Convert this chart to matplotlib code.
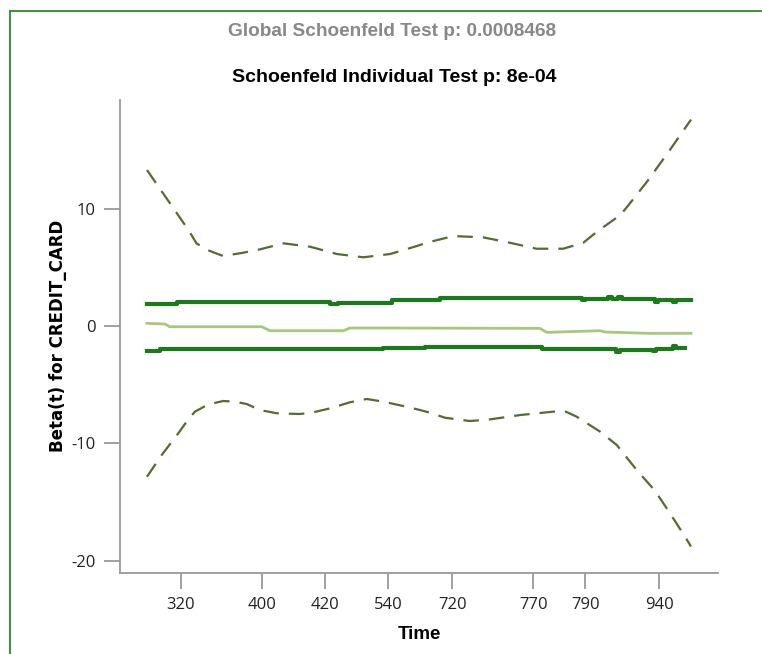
import matplotlib.pyplot as plt
from matplotlib.patches import Rectangle

plt.rcParams['axes.unicode_minus'] = False

# dados (eixo x em escala transformada 0-100)
tick_pos = [6.25, 21.1, 32.7, 44.3, 56.1, 71.0, 80.6, 94.2]
tick_lab = ['320', '400', '420', '540', '720', '770', '790', '940']

sup_x = [0, 7.6, 9.1, 11.0, 14.0, 17.7, 20.8, 25.1, 30.0, 34.9, 39.8, 44.7, 49.6,
         51.4, 56.3, 61.8, 66.7, 71.6, 76.5, 80.2, 82.7, 87.0, 88.5, 91.9, 96.1, 100]
sup_y = [13.3, 8.2, 7.05, 6.5, 5.97, 6.25, 6.54, 7.05, 6.76, 6.14, 5.86, 6.14, 6.82,
         7.1, 7.67, 7.56, 7.1, 6.59, 6.59, 7.1, 8.04, 9.46, 10.3, 12.3, 15.0, 17.6]

inf_x = [0, 2.7, 5.75, 7.59, 8.82, 11.27, 14.03, 16.18, 18.33, 20.77, 23.84, 28.13,
         30.57, 33.64, 37.32, 40.39, 43.44, 47.11, 50.18, 52.02, 54.78, 59.38, 63.05,
         68.57, 74.69, 76.84, 78.99, 83.27, 86.34, 90.02, 93.38, 96.14, 98.9, 100]
inf_y = [-12.85, -11.0, -9.15, -7.95, -7.3, -6.68, -6.39, -6.45, -6.65, -7.16, -7.44,
         -7.5, -7.36, -7.02, -6.5, -6.22, -6.45, -6.82, -7.16, -7.39, -7.82, -8.1,
         -7.96, -7.59, -7.3, -7.27, -7.73, -9.0, -10.14, -12.28, -14.04, -15.97,
         -17.96, -18.8]

beta_x = [0, 3.3, 4.2, 21.1, 22.6, 36.1, 37.3, 46.5, 72.2, 73.5, 83.3, 84.2, 91.9, 100]
beta_y = [0.23, 0.17, -0.06, -0.06, -0.4, -0.4, -0.17, -0.17, -0.2, -0.54, -0.4,
          -0.51, -0.62, -0.62]

ic_sup_x = [0, 5.5, 33.6, 35.1, 45.0, 53.9, 79.9, 80.5, 84.7, 85.5, 86.6, 87.3,
            93.4, 94.0, 96.7, 97.2, 100]
ic_sup_y = [1.9, 2.05, 1.9, 2.0, 2.2, 2.36, 2.2, 2.3, 2.45, 2.3, 2.45, 2.3,
            2.05, 2.25, 2.05, 2.2, 2.2]

ic_inf_x = [0, 2.4, 43.4, 51.1, 72.6, 86.3, 87.0, 93.0, 93.6, 96.7, 97.2, 98.9]
ic_inf_y = [-2.16, -2.0, -1.9, -1.82, -1.99, -2.2, -2.02, -2.15, -2.0, -1.7, -1.9, -1.9]

fonte_titulo = 'Liberation Sans'

verde_escuro = '#1b7a1b'
verde_claro = '#a8c67e'
oliva = '#556b2f'
cinza = '#999999'

fig = plt.figure(figsize=(7.62, 6.54), dpi=100)
fig.patch.set_facecolor('white')
fig.patches.append(Rectangle((10 / 762, -0.1), 1.2, 1 - 11 / 654 + 0.1,
                             transform=fig.transFigure, fill=False,
                             edgecolor='#2a8a2a', linewidth=1.3))

ax = fig.add_axes([120 / 762, 1 - 572.7 / 654, 598 / 762, 472.7 / 654])

ax.step(ic_sup_x, ic_sup_y, where='post', color=verde_escuro, linewidth=3)
ax.step(ic_inf_x, ic_inf_y, where='post', color=verde_escuro, linewidth=3)
ax.plot(beta_x, beta_y, color=verde_claro, linewidth=2)
ax.plot(sup_x, sup_y, color=oliva, linewidth=1.6, dashes=(7, 4.5))
ax.plot(inf_x, inf_y, color=oliva, linewidth=1.6, dashes=(7, 4.5))

ax.set_xlim(-4.96, 104.96)
ax.set_ylim(-21.03, 19.27)
ax.set_xticks(tick_pos)
ax.set_xticklabels(tick_lab)
ax.set_yticks([-20, -10, 0, 10])

for s in ['top', 'right']:
    ax.spines[s].set_visible(False)
for s in ['left', 'bottom']:
    ax.spines[s].set_color(cinza)
    ax.spines[s].set_linewidth(1.3)
ax.tick_params(axis='both', length=11.5, width=1.3, color=cinza,
               labelsize=12, labelcolor='#222222', pad=6)
for lab in ax.get_xticklabels() + ax.get_yticklabels():
    lab.set_fontfamily('Open Sans')

ax.set_ylabel('Beta(t) for CREDIT_CARD', fontsize=12, fontweight='bold',
              fontfamily='DejaVu Sans', labelpad=3)
ax.set_xlabel('Time', fontsize=13.5, fontweight='bold', fontfamily=fonte_titulo,
              labelpad=9)

fig.text(392 / 762, 1 - 31 / 654, 'Global Schoenfeld Test p: 0.0008468',
         ha='center', va='center', fontsize=13.7, fontweight='bold',
         color='#888888', fontfamily=fonte_titulo)
fig.text(394 / 762, 1 - 78 / 654, 'Schoenfeld Individual Test p: 8e-04',
         ha='center', va='center', fontsize=14, fontweight='bold',
         color='black', fontfamily=fonte_titulo)

fig.savefig('out.png', dpi=100)
